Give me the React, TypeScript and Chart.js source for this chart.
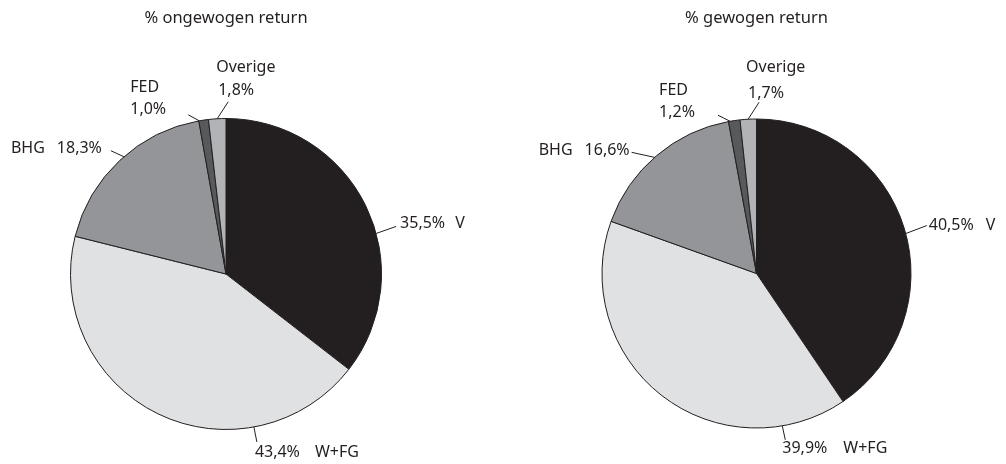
import React, { useEffect, useRef } from "react";
import { Chart, registerables } from "chart.js";

Chart.register(...registerables);

const categories = ["V", "W+FG", "BHG", "FED", "Overige"];
const unweightedValues = [35.5, 43.4, 18.3, 1.0, 1.8];
const weightedValues = [40.5, 39.9, 16.6, 1.2, 1.7];
const titles = ["% ongewogen return", "% gewogen return"];
const sliceColors = ["#231f20", "#e0e1e3", "#939598", "#58595b", "#b1b3b6"];

const INK = "#231f20";
const FONT = "16px 'Noto Sans', 'Open Sans', sans-serif";
const TITLE_FONT = "16.5px 'Noto Sans', 'Open Sans', sans-serif";

type LabelLayout = {
  f: number; // position of leader start within slice
  dx: number; dy: number; // leader vector
  mode: "after" | "before" | "stack";
  vx: number; vy: number; // value text offset from leader end
  nx?: number; ny?: number; // name offset (stack)
  gap?: number;
};

const leftLayout: LabelLayout[] = [
  { f: 0.586, dx: 20, dy: -7, mode: "after", vx: 4, vy: -3, gap: 10 },
  { f: 0.268, dx: 3, dy: 15, mode: "after", vx: -2, vy: 10, gap: 15 },
  { f: 0.53, dx: -13, dy: -6, mode: "before", vx: -9, vy: -2, gap: 12 },
  { f: 0.05, dx: -11, dy: -6, mode: "stack", vx: -58, vy: -5, nx: -58, ny: -27 },
  { f: 0.5, dx: 11, dy: -17, mode: "stack", vx: -10, vy: -11, nx: -12, ny: -34 },
];

const rightLayout: LabelLayout[] = [
  { f: 0.514, dx: 21, dy: -8, mode: "after", vx: 2, vy: 0, gap: 12 },
  { f: 0.17, dx: 3, dy: 14, mode: "after", vx: -3, vy: 9, gap: 16 },
  { f: 0.485, dx: -23, dy: -5, mode: "before", vx: -2, vy: -2, gap: 12 },
  { f: 0.14, dx: -12, dy: -6, mode: "stack", vx: -59, vy: -3, nx: -59, ny: -25 },
  { f: 0.49, dx: 11, dy: -17, mode: "stack", vx: -11, vy: -9, nx: -13, ny: -35 },
];

const fmt = (v: number) => v.toFixed(1).replace(".", ",") + "%";

function PieChart(props: {
  title: string;
  values: number[];
  layout: LabelLayout[];
  padding: { left: number; right: number; top: number; bottom: number };
  left: number;
}) {
  const ref = useRef<HTMLCanvasElement>(null);
  useEffect(() => {
    const canvas = ref.current!;
    const labelPlugin = {
      id: "pieLabels",
      afterDraw(chart: any) {
        const ctx = chart.ctx;
        const meta = chart.getDatasetMeta(0);
        ctx.save();
        ctx.fillStyle = INK;
        ctx.strokeStyle = INK;
        ctx.lineWidth = 1;
        ctx.textBaseline = "middle";
        // title
        const first = meta.data[0] as any;
        ctx.font = TITLE_FONT;
        ctx.textAlign = "center";
        ctx.fillText(props.title, first.x, 18);
        ctx.font = FONT;
        meta.data.forEach((arc: any, i: number) => {
          const L = props.layout[i];
          const a = arc.startAngle + L.f * (arc.endAngle - arc.startAngle);
          const ix = arc.x + arc.outerRadius * Math.cos(a);
          const iy = arc.y + arc.outerRadius * Math.sin(a);
          const ox = ix + L.dx;
          const oy = iy + L.dy;
          ctx.beginPath();
          ctx.moveTo(ix, iy);
          ctx.lineTo(ox, oy);
          ctx.stroke();
          const valueText = fmt(props.values[i]);
          const name = categories[i];
          if (L.mode === "after") {
            ctx.textAlign = "left";
            const vx = ox + L.vx;
            ctx.fillText(valueText, vx, oy + L.vy);
            const w = ctx.measureText(valueText).width;
            ctx.fillText(name, vx + w + (L.gap || 10), oy + L.vy);
          } else if (L.mode === "before") {
            ctx.textAlign = "right";
            const vx = ox + L.vx;
            ctx.fillText(valueText, vx, oy + L.vy);
            const w = ctx.measureText(valueText).width;
            ctx.fillText(name, vx - w - (L.gap || 10), oy + L.vy);
          } else {
            ctx.textAlign = "left";
            ctx.fillText(name, ox + (L.nx || 0), oy + (L.ny || 0));
            ctx.fillText(valueText, ox + L.vx, oy + L.vy);
          }
        });
        ctx.restore();
      },
    };
    const chart = new Chart(canvas, {
      type: "pie",
      data: {
        labels: categories,
        datasets: [
          {
            data: props.values,
            backgroundColor: sliceColors,
            borderColor: INK,
            borderWidth: 1,
          },
        ],
      },
      options: {
        responsive: false,
        animation: false,
        layout: { padding: props.padding },
        plugins: {
          legend: { display: false },
          title: { display: false },
          tooltip: { enabled: false },
        },
      },
      plugins: [labelPlugin],
    });
    return () => chart.destroy();
  }, []);
  return (
    <canvas
      ref={ref}
      width={503}
      height={464}
      style={{ position: "absolute", left: props.left, top: 0, width: 503, height: 464 }}
    />
  );
}

export default function App() {
  return (
    <div style={{ position: "absolute", left: 0, top: 0, width: 1006, height: 464, background: "#fff" }}>
      <PieChart
        title={titles[0]}
        values={unweightedValues}
        layout={leftLayout}
        left={0}
        padding={{ left: 70, right: 121, top: 118, bottom: 34 }}
      />
      <PieChart
        title={titles[1]}
        values={weightedValues}
        layout={rightLayout}
        left={503}
        padding={{ left: 98.5, right: 94.5, top: 118.5, bottom: 35.5 }}
      />
    </div>
  );
}
